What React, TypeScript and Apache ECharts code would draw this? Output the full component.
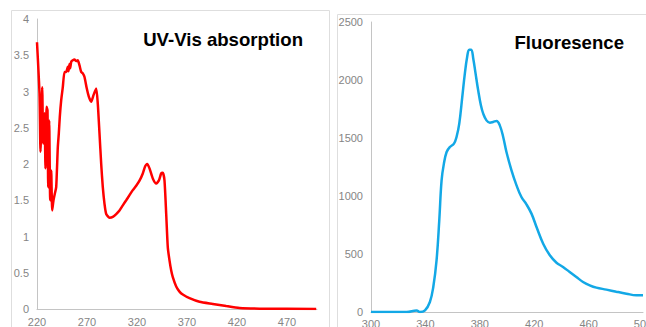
import React, { useEffect, useRef } from "react";
import * as echarts from "echarts";

const uvX = [220, 222.5, 223.5, 225.2, 226.2, 227.5, 228.5, 229.5, 230.5, 231.2, 232.2, 233.2, 234.2, 235.2, 236.5, 237.8, 239.2, 240.8, 241.8, 242.8, 244.2, 245.8, 247.5, 249.2, 250, 250.8, 251.5, 252.5, 253.2, 254.2, 255.8, 257.5, 259.2, 260.8, 262.5, 264.2, 265.8, 267.5, 269.8, 271.8, 274.2, 276.5, 279.2, 280.8, 282.5, 284.2, 285.8, 287.5, 289.2, 292.5, 295.8, 299.2, 302.5, 305.8, 309.2, 312.5, 315.8, 319.2, 322.5, 325.8, 328.2, 330.2, 332.5, 335.8, 339.2, 341.8, 344.2, 345.8, 347.5, 349.2, 350.8, 352.5, 354.2, 355.8, 359.2, 362.5, 365.8, 372.5, 382.5, 395.8, 409.2, 422.5, 442.5, 499.2];
const uvY = [3.68, 2.97, 2.17, 3.06, 2.28, 2.7, 1.94, 2.79, 2.74, 1.68, 2.6, 1.5, 1.91, 1.36, 1.5, 1.59, 1.68, 2.23, 2.42, 2.65, 2.88, 3.06, 3.27, 3.27, 3.3, 3.34, 3.28, 3.38, 3.32, 3.41, 3.43, 3.44, 3.42, 3.43, 3.36, 3.27, 3.25, 3.2, 3.04, 2.93, 2.86, 2.95, 3.04, 2.83, 2.42, 2.0, 1.68, 1.45, 1.31, 1.26, 1.27, 1.31, 1.36, 1.43, 1.5, 1.57, 1.64, 1.7, 1.77, 1.87, 1.97, 2.0, 1.94, 1.8, 1.73, 1.77, 1.87, 1.88, 1.77, 1.31, 0.85, 0.67, 0.53, 0.44, 0.31, 0.24, 0.2, 0.15, 0.1, 0.07, 0.04, 0.014, 0.005, 0];

const flX = [300, 326.2, 333.5, 336, 339.7, 343.3, 345.8, 348.2, 350.2, 351.9, 353.6, 355.6, 358, 361, 362.9, 364.9, 367.1, 369, 370.7, 372.2, 373.7, 375.2, 376.9, 378.8, 380.8, 382.5, 384.9, 387.4, 389.8, 392.3, 394.7, 397.2, 399.6, 403.3, 407, 410.6, 414.3, 418, 421.7, 426.6, 431.5, 436.4, 441.2, 446.1, 451, 455.9, 460.8, 465.7, 473.1, 480.4, 487.8, 495.1, 500];
const flY = [0, 0, 14, 0, 14, 86, 216, 445, 790, 1135, 1279, 1379, 1422, 1451, 1509, 1624, 1853, 2055, 2198, 2261, 2261, 2184, 2055, 1911, 1782, 1710, 1652, 1632, 1638, 1647, 1609, 1509, 1379, 1221, 1092, 991, 928, 848, 733, 589, 489, 425, 388, 345, 302, 259, 230, 210, 193, 175, 158, 144, 144];

const uvTitle = "UV-Vis absorption";
const flTitle = "Fluoresence";

const FONT = "'Liberation Sans', Arial, sans-serif";
const labelStyle = { color: "#858585", fontSize: 11, fontFamily: FONT };
const axisLineStyle = { lineStyle: { color: "#c4c4c4", width: 1 } };

export default function App() {
  const ref = useRef<HTMLDivElement>(null);
  useEffect(() => {
    if (!ref.current) return;
    const chart = echarts.init(ref.current, null, { renderer: "svg" });
    chart.setOption({
      animation: false,
      backgroundColor: "#ffffff",
      grid: [
        { left: 37, top: 19, width: 280, height: 290, outerBoundsMode: "none", containLabel: false },
        { left: 371, top: 22, width: 272, height: 290, outerBoundsMode: "none", containLabel: false },
      ],
      xAxis: [
        {
          type: "value", gridIndex: 0, min: 220, max: 500, interval: 10,
          axisLine: { show: true, ...axisLineStyle }, axisTick: { show: false }, splitLine: { show: false },
          axisLabel: { ...labelStyle, margin: 7, showMaxLabel: false, formatter: (v: number) => ((v - 220) % 50 === 0 ? String(v) : "") },
        },
        {
          type: "value", gridIndex: 1, min: 300, max: 500, interval: 20,
          axisLine: { show: true, ...axisLineStyle }, axisTick: { show: false }, splitLine: { show: false },
          axisLabel: { ...labelStyle, margin: 6, formatter: (v: number) => ((v - 300) % 40 === 0 ? String(v) : "") },
        },
      ],
      yAxis: [
        {
          type: "value", gridIndex: 0, min: 0, max: 4, interval: 0.5,
          axisLine: { show: true, ...axisLineStyle }, axisTick: { show: false }, splitLine: { show: false },
          axisLabel: { ...labelStyle, margin: 8, formatter: (v: number) => String(v) },
        },
        {
          type: "value", gridIndex: 1, min: 0, max: 2500, interval: 500,
          axisLine: { show: true, ...axisLineStyle }, axisTick: { show: false }, splitLine: { show: false },
          axisLabel: { ...labelStyle, margin: 8, formatter: (v: number) => String(v) },
        },
      ],
      series: [
        {
          type: "line", xAxisIndex: 0, yAxisIndex: 0, showSymbol: false, symbol: "none",
          data: uvX.map((x, i) => [x, uvY[i]]),
          lineStyle: { color: "#ff0000", width: 2.5 }, smooth: 0.2,
        },
        {
          type: "line", xAxisIndex: 1, yAxisIndex: 1, showSymbol: false, symbol: "none",
          data: flX.map((x, i) => [x, flY[i]]),
          lineStyle: { color: "#13a8e6", width: 2.5 }, smooth: 0.4,
        },
      ],
      graphic: [
        { type: "rect", z: -1, shape: { x: 11.5, y: 10.5, width: 318, height: 400 }, style: { fill: "none", stroke: "#dedede", lineWidth: 1 } },
        { type: "rect", z: -1, shape: { x: 337.5, y: 14.5, width: 320, height: 400 }, style: { fill: "none", stroke: "#dedede", lineWidth: 1 } },
        { type: "text", x: 303, y: 39, style: { text: uvTitle, align: "right", verticalAlign: "middle", font: `bold 18.6px ${FONT}`, fill: "#000" } },
        { type: "text", x: 624, y: 42, style: { text: flTitle, align: "right", verticalAlign: "middle", font: `bold 18.6px ${FONT}`, fill: "#000" } },
      ],
    });
    return () => chart.dispose();
  }, []);
  return <div ref={ref} style={{ position: "fixed", left: 0, top: 0, width: 646, height: 327 }} />;
}
